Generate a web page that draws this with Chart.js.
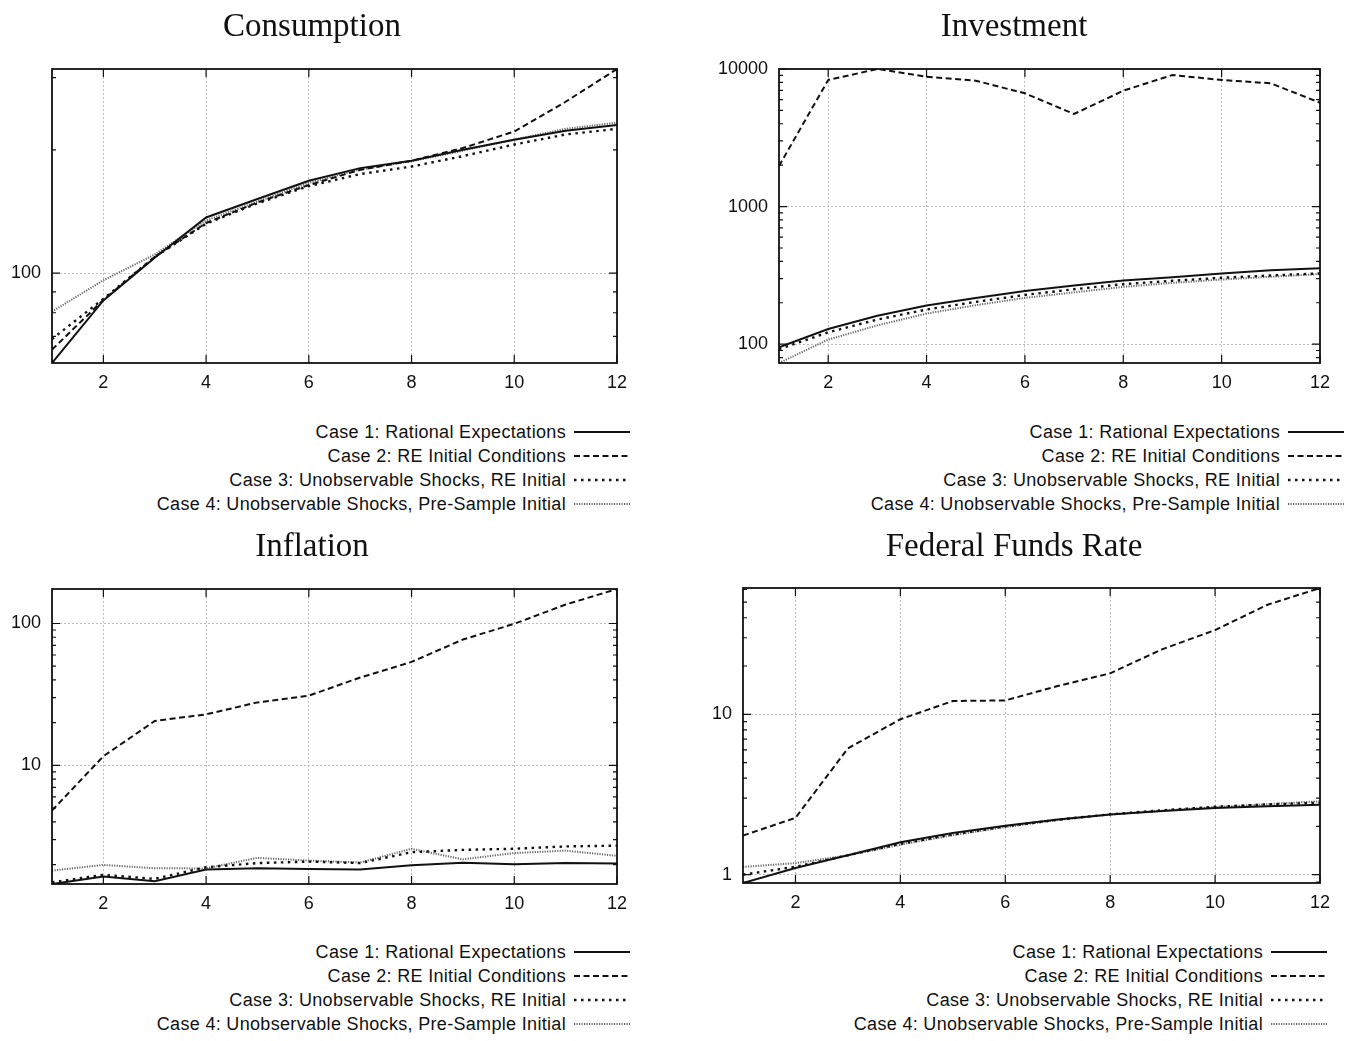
<!DOCTYPE html>
<html>
<head>
<meta charset="utf-8">
<script src="https://cdn.jsdelivr.net/npm/chart.js@4.4.1/dist/chart.umd.min.js"></script>
<style>
  body { margin: 0; background: #fff; }
  #page { position: relative; width: 1356px; height: 1041px; overflow: hidden; background: #fff; }
  canvas { position: absolute; }
  .title { position: absolute; font-family: "Liberation Serif", serif; font-size: 33px; line-height: 33px;
           transform: translateX(-50%); white-space: nowrap; color: #111; }
  .legend { position: absolute; left: 0; font-family: "Liberation Sans", Arial, sans-serif; font-size: 18px;
            letter-spacing: 0.32px; color: #111; }
  .legend .row { display: flex; justify-content: flex-end; align-items: center; height: 24px; white-space: nowrap; }
  .legend svg { margin-left: 8px; }
</style>
</head>
<body>
<div id="page">
  <canvas id="consumption" width="678" height="360" style="left:0;top:40px"></canvas>
  <canvas id="investment" width="678" height="360" style="left:678px;top:40px"></canvas>
  <canvas id="inflation" width="678" height="360" style="left:0;top:560px"></canvas>
  <canvas id="fedfunds" width="678" height="360" style="left:678px;top:560px"></canvas>
</div>
<script>
// horizonte (trimestres) e rotulos
const horizons = [1, 2, 3, 4, 5, 6, 7, 8, 9, 10, 11, 12];
const xTicks = [2, 4, 6, 8, 10, 12];
const caseLabels = [
  'Case 1: Rational Expectations',
  'Case 2: RE Initial Conditions',
  'Case 3: Unobservable Shocks, RE Initial',
  'Case 4: Unobservable Shocks, Pre-Sample Initial'
];

// Consumption
const consCase1 = [60.3, 85.7, 109, 136.7, 151.6, 168, 180.4, 188, 200, 211.5, 222.5, 230];
const consCase2 = [65, 86, 109.5, 132.5, 148.7, 164, 178.7, 188, 202, 221.7, 262, 315];
const consCase3 = [69, 86.5, 109.5, 132, 148, 163, 174.5, 182, 193, 206, 218, 225];
const consCase4 = [80.5, 96, 111, 134.4, 149.5, 166, 179, 187.6, 199, 212, 225, 233];
const consMajor = [100];
const consMinor = [70, 80, 90, 200, 300];

// Investment
const invCase1 = [95, 129, 160.7, 191, 217, 244, 267, 290, 307, 327, 344, 357];
const invCase2 = [1970, 8318, 10000, 8790, 8222, 6659, 4708, 6955, 9045, 8318, 7870, 5690];
const invCase3 = [92, 122, 151, 178.7, 203, 228, 251, 273, 289, 304, 316, 327];
const invCase4 = [73, 108, 137, 167, 192, 217, 238, 261, 279, 295, 309, 323];
const invMajor = [100, 1000, 10000];
const invMinor = [80, 90, 200, 300, 400, 500, 600, 700, 800, 900,
                  2000, 3000, 4000, 5000, 6000, 7000, 8000, 9000];

// Inflation
const inflCase1 = [1.46, 1.647, 1.526, 1.845, 1.884, 1.865, 1.845, 1.979, 2.058, 2.012, 2.05, 2.04];
const inflCase2 = [4.81, 11.6, 20.55, 22.9, 27.8, 31.0, 41.6, 53.6, 77.1, 99.5, 136, 175];
const inflCase3 = [1.5, 1.693, 1.587, 1.917, 2.05, 2.10, 2.05, 2.445, 2.54, 2.585, 2.686, 2.72];
const inflCase4 = [1.815, 1.99, 1.884, 1.88, 2.23, 2.135, 2.07, 2.585, 2.18, 2.41, 2.51, 2.305];
const inflMajor = [10, 100];
const inflMinor = [2, 3, 4, 5, 6, 7, 8, 9, 20, 30, 40, 50, 60, 70, 80, 90];

// Federal Funds Rate
const ffrCase1 = [0.887, 1.10, 1.32, 1.59, 1.82, 2.02, 2.21, 2.37, 2.49, 2.60, 2.67, 2.73];
const ffrCase2 = [1.753, 2.26, 6.13, 9.31, 12.1, 12.2, 15.0, 18.0, 25.5, 33.5, 48.2, 61.3];
const ffrCase3 = [1.0, 1.12, 1.32, 1.556, 1.78, 2.0, 2.2, 2.38, 2.52, 2.65, 2.74, 2.81];
const ffrCase4 = [1.117, 1.18, 1.32, 1.54, 1.76, 1.98, 2.19, 2.37, 2.51, 2.64, 2.75, 2.87];
const ffrMajor = [1, 10];
const ffrMinor = [0.9, 2, 3, 4, 5, 6, 7, 8, 9, 20, 30, 40, 50, 60];

// estilos das linhas (gnuplot: solida, tracejada, pontilhada, pontilhada fina)
const caseStyles = [
  { borderColor: '#111', borderWidth: 2, borderDash: [] },
  { borderColor: '#111', borderWidth: 2, borderDash: [6, 3.5] },
  { borderColor: '#111', borderWidth: 2.4, borderDash: [2.5, 4.5] },
  { borderColor: '#666', borderWidth: 2, borderDash: [1.2, 1.3] }
];

const sansFont = { family: '"Liberation Sans", Arial, sans-serif', size: 18 };

// moldura e marcas internas, como no gnuplot
const gnuplotFrame = {
  id: 'gnuplotFrame',
  afterDatasetsDraw(chart) {
    const { ctx, chartArea: a, scales: { x, y } } = chart;
    ctx.save();
    ctx.strokeStyle = '#111';
    ctx.lineWidth = 1.2;
    ctx.beginPath();
    x.ticks.forEach(t => {
      const px = x.getPixelForValue(t.value);
      ctx.moveTo(px, a.bottom); ctx.lineTo(px, a.bottom - 8);
      ctx.moveTo(px, a.top); ctx.lineTo(px, a.top + 8);
    });
    y.ticks.forEach(t => {
      const py = y.getPixelForValue(t.value);
      const len = t.major ? 8 : 4;
      ctx.moveTo(a.left, py); ctx.lineTo(a.left + len, py);
      ctx.moveTo(a.right, py); ctx.lineTo(a.right - len, py);
    });
    ctx.stroke();
    ctx.lineWidth = 1.8;
    ctx.strokeRect(a.left, a.top, a.right - a.left, a.bottom - a.top);
    ctx.restore();
  }
};

function makePanel(id, series, yMin, yMax, majors, minors, box) {
  const datasets = series.map((vals, i) => ({
    label: caseLabels[i],
    data: horizons.map((h, j) => ({ x: h, y: vals[j] })),
    ...caseStyles[i],
    pointRadius: 0,
    tension: 0,
    fill: false
  }));

  new Chart(document.getElementById(id), {
    type: 'line',
    data: { datasets: datasets },
    options: {
      responsive: false,
      animation: false,
      layout: { padding: { left: 0, right: box.right, top: box.top, bottom: 0 } },
      plugins: { legend: { display: false }, tooltip: { enabled: false } },
      scales: {
        x: {
          type: 'linear',
          min: 1,
          max: 12,
          afterBuildTicks: axis => { axis.ticks = xTicks.map(v => ({ value: v })); },
          afterFit: axis => { axis.height = box.xHeight; },
          ticks: { font: sansFont, color: '#111', padding: box.xPad, maxRotation: 0, autoSkip: false },
          grid: { color: '#bdbdbd', lineWidth: 1, drawTicks: false },
          border: { display: false, dash: [2, 2] }
        },
        y: {
          type: 'logarithmic',
          min: yMin,
          max: yMax,
          afterBuildTicks: axis => {
            axis.ticks = majors.concat(minors)
              .filter(v => v >= yMin && v <= yMax)
              .sort((a, b) => a - b)
              .map(v => ({ value: v, major: majors.includes(v) }));
          },
          afterFit: axis => { axis.width = box.yWidth; },
          ticks: {
            font: sansFont, color: '#111', padding: 11, autoSkip: false,
            callback: v => majors.includes(v) ? String(v) : ''
          },
          grid: {
            color: c => (c.tick && majors.includes(c.tick.value)) ? '#bdbdbd' : 'transparent',
            lineWidth: 1,
            drawTicks: false
          },
          border: { display: false, dash: [2, 2] }
        }
      }
    },
    plugins: [gnuplotFrame]
  });
}

makePanel('consumption', [consCase1, consCase2, consCase3, consCase4], 60.3, 315, consMajor, consMinor,
  { yWidth: 52, right: 61, top: 29, xHeight: 37, xPad: 9 });
makePanel('investment', [invCase1, invCase2, invCase3, invCase4], 73, 10000, invMajor, invMinor,
  { yWidth: 101, right: 36, top: 29, xHeight: 37, xPad: 9 });
makePanel('inflation', [inflCase1, inflCase2, inflCase3, inflCase4], 1.46, 175, inflMajor, inflMinor,
  { yWidth: 52, right: 61, top: 29, xHeight: 36, xPad: 9 });
makePanel('fedfunds', [ffrCase1, ffrCase2, ffrCase3, ffrCase4], 0.887, 61.3, ffrMajor, ffrMinor,
  { yWidth: 65, right: 36, top: 28, xHeight: 37, xPad: 9 });

// titulos
const page = document.getElementById('page');
[['Consumption', 312, 9], ['Investment', 1014, 9], ['Inflation', 312, 529], ['Federal Funds Rate', 1014, 529]]
  .forEach(([text, cx, top]) => {
    const d = document.createElement('div');
    d.className = 'title';
    d.textContent = text;
    d.style.left = cx + 'px';
    d.style.top = top + 'px';
    page.appendChild(d);
  });

// legendas abaixo de cada painel (texto alinhado a direita + amostra da linha)
function makeLegend(lineEnd, top) {
  const lg = document.createElement('div');
  lg.className = 'legend';
  lg.style.width = lineEnd + 'px';
  lg.style.top = top + 'px';
  caseLabels.forEach((label, i) => {
    const row = document.createElement('div');
    row.className = 'row';
    const span = document.createElement('span');
    span.textContent = label;
    row.appendChild(span);
    const st = caseStyles[i];
    const svgNS = 'http://www.w3.org/2000/svg';
    const svg = document.createElementNS(svgNS, 'svg');
    svg.setAttribute('width', '56');
    svg.setAttribute('height', '24');
    const ln = document.createElementNS(svgNS, 'line');
    ln.setAttribute('x1', '0'); ln.setAttribute('x2', '56');
    ln.setAttribute('y1', '12'); ln.setAttribute('y2', '12');
    ln.setAttribute('stroke', st.borderColor);
    ln.setAttribute('stroke-width', st.borderWidth);
    if (st.borderDash.length) ln.setAttribute('stroke-dasharray', st.borderDash.join(' '));
    svg.appendChild(ln);
    row.appendChild(svg);
    lg.appendChild(row);
  });
  page.appendChild(lg);
}
makeLegend(630, 420);
makeLegend(1344, 420);
makeLegend(630, 940);
makeLegend(1327, 940);
</script>
</body>
</html>
